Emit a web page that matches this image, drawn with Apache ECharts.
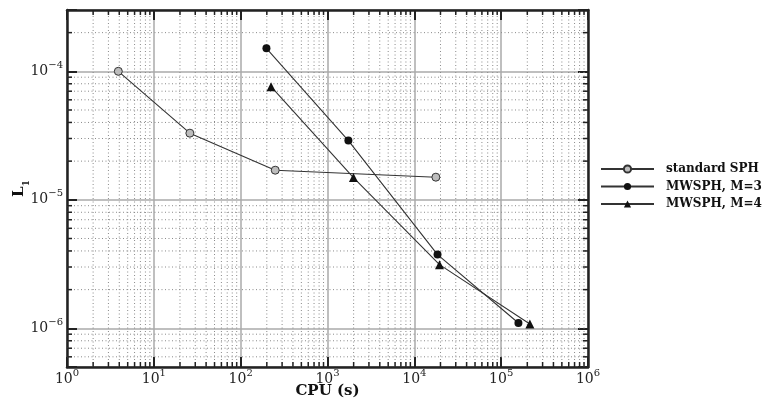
<!DOCTYPE html>
<html><head><meta charset="utf-8">
<script src="https://cdn.jsdelivr.net/npm/echarts@6/dist/echarts.min.js"></script>
<style>html,body{margin:0;padding:0;background:#fff}#c{width:762px;height:405px}</style>
</head><body><div id="c"></div>
<script>
const seriesNames = ['standard SPH', 'MWSPH, M=3', 'MWSPH, M=4'];
const stdCPU = [3.9, 26, 250, 17700];
const stdL1 = [1.0e-4, 3.3e-5, 1.7e-5, 1.5e-5];
const m3CPU = [198, 1740, 18500, 158000];
const m3L1 = [1.51e-4, 2.89e-5, 3.75e-6, 1.1e-6];
const m4CPU = [224, 1990, 19500, 214000];
const m4L1 = [7.6e-5, 1.49e-5, 3.13e-6, 1.08e-6];
const xRange = [1, 1e6];
const yRange = [5e-7, 3e-4];
const xTickExponents = [0, 1, 2, 3, 4, 5, 6];
const yTickExponents = [-6, -5, -4];
const minorMultipliers = [2, 3, 4, 5, 6, 7, 8, 9];
const xTitle = 'CPU (s)';
const yTitle = ['L', '1'];

const FONT = 'DejaVu Serif';
function minorValues(range) {
  const out = [];
  const e0 = Math.floor(Math.log10(range[0])), e1 = Math.ceil(Math.log10(range[1]));
  for (let e = e0; e < e1; e++) {
    minorMultipliers.forEach(m => {
      const v = m * Math.pow(10, e);
      if (v > range[0] * 1.0001 && v < range[1] * 0.9999) out.push(v);
    });
  }
  return out;
}
const xMinor = minorValues(xRange);
const yMinor = minorValues(yRange);

function fmt(list) {
  return function (v) {
    const l = Math.log10(v), e = Math.round(l);
    if (Math.abs(l - e) > 1e-6 || list.indexOf(e) < 0) return '';
    return '{b|10}{s|' + String(e).replace('-', '\u2212') + '}';
  };
}
const labelRich = {
  b: { fontFamily: FONT, fontSize: 14, color: '#222', lineHeight: 22 },
  s: { fontFamily: FONT, fontSize: 10, color: '#222', lineHeight: 10, verticalAlign: 'top' }
};
const frameLine = { show: true, lineStyle: { color: '#222', width: 2.5 } };
const majorTick = { show: true, inside: true, length: 10, lineStyle: { color: '#222', width: 2 } };
const majorSplit = { show: true, lineStyle: { color: '#aaa', width: 1.5 } };

const dotStyle = { stroke: '#8a8a8a', lineWidth: 1, lineDash: [1, 2.5] };
const tickStyle = { stroke: '#222', lineWidth: 1.5 };
function renderXMinor(params, api) {
  const v = api.value(0);
  const b = api.coord([v, yRange[0]]), t = api.coord([v, yRange[1]]);
  return { type: 'group', children: [
    { type: 'line', shape: { x1: b[0], y1: b[1], x2: t[0], y2: t[1] }, style: dotStyle },
    { type: 'line', shape: { x1: b[0], y1: b[1], x2: b[0], y2: b[1] - 5 }, style: tickStyle },
    { type: 'line', shape: { x1: t[0], y1: t[1], x2: t[0], y2: t[1] + 5 }, style: tickStyle }
  ]};
}
function renderYMinor(params, api) {
  const v = api.value(1);
  const l = api.coord([xRange[0], v]), r = api.coord([xRange[1], v]);
  return { type: 'group', children: [
    { type: 'line', shape: { x1: l[0], y1: l[1], x2: r[0], y2: r[1] }, style: dotStyle },
    { type: 'line', shape: { x1: l[0], y1: l[1], x2: l[0] + 5, y2: l[1] }, style: tickStyle },
    { type: 'line', shape: { x1: r[0], y1: r[1], x2: r[0] - 5, y2: r[1] }, style: tickStyle }
  ]};
}

function zip(a, b) { return a.map((v, i) => [v, b[i]]); }
const lineStyle = { color: '#333', width: 1.1 };

const chart = echarts.init(document.getElementById('c'), null, { renderer: 'canvas' });
chart.setOption({
  animation: false,
  backgroundColor: '#fff',
  grid: { left: 67, top: 10, width: 521, height: 357, containLabel: false, outerBoundsMode: 'none' },
  xAxis: [
    { type: 'log', logBase: 10, min: xRange[0], max: xRange[1], position: 'bottom',
      axisLine: frameLine, axisTick: majorTick, splitLine: majorSplit,
      axisLabel: { formatter: fmt(xTickExponents), rich: labelRich, margin: 1, showMinLabel: true, showMaxLabel: true },
      name: xTitle, nameLocation: 'middle', nameGap: 17, nameMoveOverlap: false,
      nameTextStyle: { fontFamily: FONT, fontWeight: 'bold', fontSize: 15, color: '#111' } },
    { type: 'log', logBase: 10, min: xRange[0], max: xRange[1], position: 'top',
      axisLine: frameLine, axisTick: majorTick, splitLine: { show: false }, axisLabel: { show: false } }
  ],
  yAxis: [
    { type: 'log', logBase: 10, min: yRange[0], max: yRange[1], position: 'left',
      axisLine: frameLine, axisTick: majorTick, splitLine: majorSplit,
      axisLabel: { formatter: fmt(yTickExponents), rich: labelRich, margin: 4 },
      name: '{a|' + yTitle[0] + '}{b|' + yTitle[1] + '}', nameLocation: 'middle', nameGap: 39, nameRotate: 90,
      nameMoveOverlap: false,
      nameTextStyle: { rich: {
        a: { fontFamily: FONT, fontWeight: 'bold', fontSize: 15, color: '#111', lineHeight: 18 },
        b: { fontFamily: FONT, fontWeight: 'bold', fontSize: 9, color: '#111', lineHeight: 18, verticalAlign: 'bottom', padding: [0, 0, -3, 0] }
      } } },
    { type: 'log', logBase: 10, min: yRange[0], max: yRange[1], position: 'right',
      axisLine: frameLine, axisTick: majorTick, splitLine: { show: false }, axisLabel: { show: false } }
  ],
  legend: {
    data: seriesNames, orient: 'vertical', left: 600, top: 163, padding: 0,
    itemWidth: 53, itemHeight: 9, itemGap: 5.5,
    textStyle: { fontFamily: FONT, fontWeight: 'bold', fontSize: 12, color: '#111', padding: [0, 0, 0, 7] }
  },
  series: [
    { type: 'custom', silent: true, z: 1, clip: false, renderItem: renderXMinor,
      data: xMinor.map(v => [v, yRange[0]]), encode: { x: 0, y: 1 } },
    { type: 'custom', silent: true, z: 1, clip: false, renderItem: renderYMinor,
      data: yMinor.map(v => [xRange[0], v]), encode: { x: 0, y: 1 } },
    { name: seriesNames[0], type: 'line', z: 5, data: zip(stdCPU, stdL1), symbol: 'circle', symbolSize: 8,
      lineStyle: lineStyle, itemStyle: { color: '#bdbdbd', borderColor: '#333', borderWidth: 1 } },
    { name: seriesNames[1], type: 'line', z: 5, data: zip(m3CPU, m3L1), symbol: 'circle', symbolSize: 8,
      lineStyle: lineStyle, itemStyle: { color: '#111', borderColor: '#111', borderWidth: 0 } },
    { name: seriesNames[2], type: 'line', z: 5, data: zip(m4CPU, m4L1), symbol: 'triangle', symbolSize: 9,
      lineStyle: lineStyle, itemStyle: { color: '#111', borderColor: '#111', borderWidth: 0 } }
  ]
});
</script></body></html>
